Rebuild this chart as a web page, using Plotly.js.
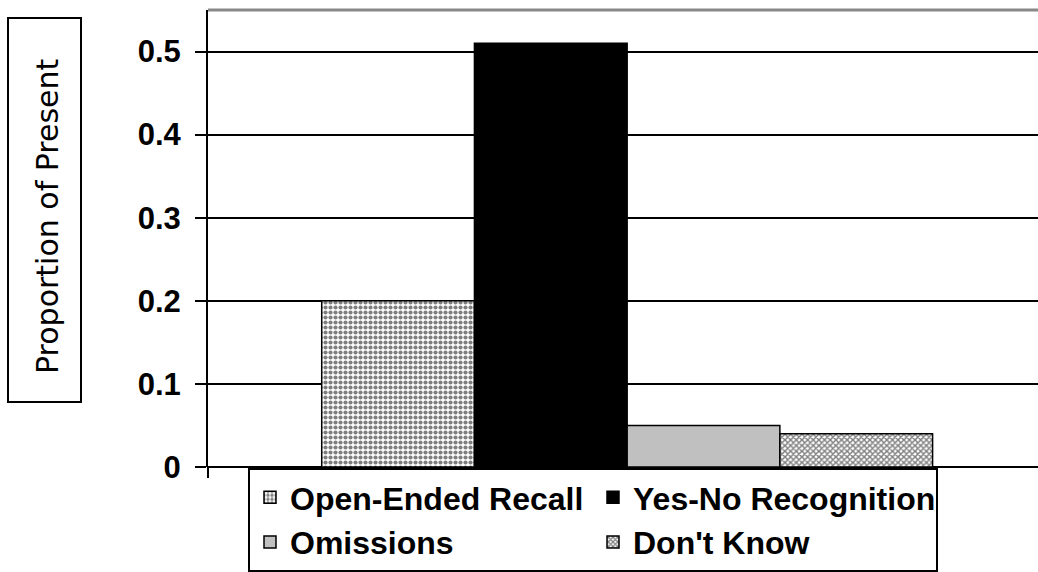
<!DOCTYPE html>
<html>
<head>
<meta charset="utf-8">
<script src="https://cdn.plot.ly/plotly-3.0.1.min.js"></script>
<style>html,body{margin:0;padding:0;background:#fff;}#chart{width:1038px;height:572px;}</style>
</head>
<body>
<div id="chart"></div>
<script>
var seriesNames = ["Open-Ended Recall", "Yes-No Recognition", "Omissions", "Don't Know"];
var seriesValues = [0.20, 0.51, 0.05, 0.04];
var yTicks = [0, 0.1, 0.2, 0.3, 0.4, 0.5];
var yTitle = "Proportion of Present";

var styles = [
  {color: "#ffffff", pattern: {shape: ".", fgcolor: "#000000", bgcolor: "#ffffff", size: 5, solidity: 0.55, fillmode: "overlay"}},
  {color: "#000000"},
  {color: "#c0c0c0"},
  {color: "#ffffff", pattern: {shape: "x", fgcolor: "#000000", bgcolor: "#ffffff", size: 4, solidity: 0.6, fillmode: "overlay"}}
];

var traces = seriesNames.map(function (name, i) {
  var m = {color: styles[i].color, line: {color: "#000000", width: 1.5}};
  if (styles[i].pattern) m.pattern = styles[i].pattern;
  return {type: "bar", name: name, x: ["g"], y: [seriesValues[i]], marker: m, hoverinfo: "skip"};
});

var L = 208, T = 10, W = 1038, H = 572, B = 467;
var pw = W - L, paperH = H - T;
function px(x) { return (x - L) / pw; }
function py(y) { return (H - y) / paperH; }

var layout = {
  width: W, height: H,
  margin: {l: L, r: 0, t: T, b: 0},
  paper_bgcolor: "#ffffff", plot_bgcolor: "#ffffff",
  barmode: "group", bargap: 0.264, bargroupgap: 0,
  showlegend: true,
  legend: {
    orientation: "h", x: px(248), y: 0, xanchor: "left", yanchor: "bottom",
    entrywidth: 298, entrywidthmode: "pixels",
    font: {family: "Arial, Liberation Sans, sans-serif", size: 32, color: "#000", weight: "bold"},
    bordercolor: "#000", borderwidth: 2, bgcolor: "#fff",
    traceorder: "normal", itemclick: false
  },
  xaxis: {type: "category", range: [-0.505, 0.495], showticklabels: false, showgrid: false,
          zeroline: false, showline: false, ticks: "", fixedrange: true},
  yaxis: {domain: [py(B), 1], range: [0, 0.55], tickvals: yTicks, ticktext: yTicks.map(function (v) { return v === 0 ? "0" : v.toFixed(1); }),
          showgrid: true, gridcolor: "#000", gridwidth: 2, zeroline: true, zerolinecolor: "#000", zerolinewidth: 2,
          showline: true, linecolor: "#000", linewidth: 2, ticks: "outside", ticklen: 11, tickwidth: 2, tickcolor: "#000",
          ticklabelstandoff: 8,
          tickfont: {family: "Arial, Liberation Sans, sans-serif", size: 31, color: "#000", weight: "bold"}, fixedrange: true},
  shapes: [
    {type: "line", xref: "paper", yref: "paper", x0: 0, x1: 1, y0: 1, y1: 1, line: {color: "#888888", width: 3}},
    {type: "line", xref: "paper", yref: "paper", x0: 0, x1: 0, y0: py(B), y1: py(478), line: {color: "#000", width: 2}},
    {type: "rect", xref: "paper", yref: "paper", x0: px(8), x1: px(81), y0: py(402), y1: py(18), line: {color: "#000", width: 2}, fillcolor: "rgba(0,0,0,0)"}
  ],
  annotations: [
    {xref: "paper", yref: "paper", x: px(47), y: py(216), text: yTitle, textangle: -90, showarrow: false,
     xanchor: "center", yanchor: "middle",
     font: {family: "DejaVu Sans, Verdana, sans-serif", size: 30, color: "#000"}}
  ]
};

Plotly.newPlot("chart", traces, layout, {displayModeBar: false, staticPlot: true});
</script>
</body>
</html>
